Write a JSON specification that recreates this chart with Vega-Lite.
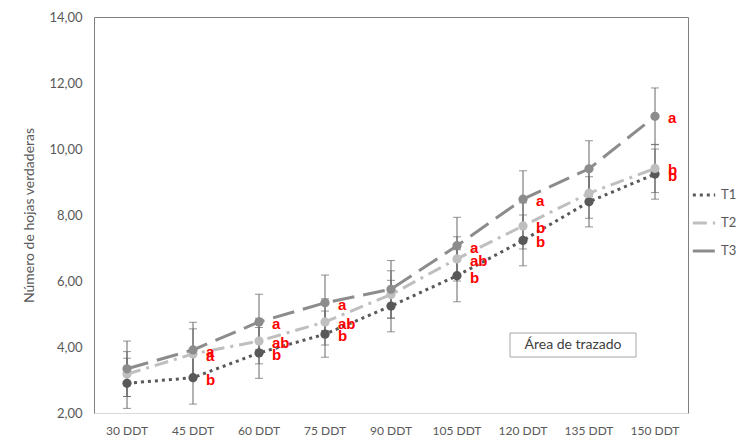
{
  "$schema": "https://vega.github.io/schema/vega-lite/v6.json",
  "width": 594,
  "height": 396,
  "autosize": "none",
  "padding": {"left": 94, "top": 17, "right": 60, "bottom": 31},
  "background": "white",
  "config": {
    "view": {"stroke": "#7f7f7f", "strokeWidth": 1},
    "font": "Lato",
    "axis": {"labelFont": "Lato", "titleFont": "Lato", "labelColor": "#595959", "titleColor": "#595959"}
  },
  "data": {
    "values": [
      {"ddt": "30 DDT", "serie": "T1", "valor": 2.90, "min": 2.14, "max": 3.66, "letra": ""},
      {"ddt": "45 DDT", "serie": "T1", "valor": 3.07, "min": 2.27, "max": 3.87, "letra": "b"},
      {"ddt": "60 DDT", "serie": "T1", "valor": 3.82, "min": 3.05, "max": 4.59, "letra": "b"},
      {"ddt": "75 DDT", "serie": "T1", "valor": 4.39, "min": 3.69, "max": 5.09, "letra": "b"},
      {"ddt": "90 DDT", "serie": "T1", "valor": 5.24, "min": 4.46, "max": 6.02, "letra": ""},
      {"ddt": "105 DDT", "serie": "T1", "valor": 6.16, "min": 5.37, "max": 6.95, "letra": "b"},
      {"ddt": "120 DDT", "serie": "T1", "valor": 7.23, "min": 6.46, "max": 8.00, "letra": "b"},
      {"ddt": "135 DDT", "serie": "T1", "valor": 8.40, "min": 7.64, "max": 9.16, "letra": ""},
      {"ddt": "150 DDT", "serie": "T1", "valor": 9.24, "min": 8.48, "max": 10.00, "letra": "b"},
      {"ddt": "30 DDT", "serie": "T2", "valor": 3.18, "min": 2.50, "max": 3.86, "letra": ""},
      {"ddt": "45 DDT", "serie": "T2", "valor": 3.79, "min": 3.03, "max": 4.55, "letra": "a"},
      {"ddt": "60 DDT", "serie": "T2", "valor": 4.18, "min": 3.49, "max": 4.87, "letra": "ab"},
      {"ddt": "75 DDT", "serie": "T2", "valor": 4.76, "min": 4.06, "max": 5.46, "letra": "ab"},
      {"ddt": "90 DDT", "serie": "T2", "valor": 5.59, "min": 4.87, "max": 6.31, "letra": ""},
      {"ddt": "105 DDT", "serie": "T2", "valor": 6.67, "min": 6.00, "max": 7.34, "letra": "ab"},
      {"ddt": "120 DDT", "serie": "T2", "valor": 7.67, "min": 6.97, "max": 8.37, "letra": "b"},
      {"ddt": "135 DDT", "serie": "T2", "valor": 8.66, "min": 7.90, "max": 9.42, "letra": ""},
      {"ddt": "150 DDT", "serie": "T2", "valor": 9.41, "min": 8.68, "max": 10.14, "letra": "b"},
      {"ddt": "30 DDT", "serie": "T3", "valor": 3.34, "min": 2.50, "max": 4.18, "letra": ""},
      {"ddt": "45 DDT", "serie": "T3", "valor": 3.91, "min": 3.07, "max": 4.75, "letra": "a"},
      {"ddt": "60 DDT", "serie": "T3", "valor": 4.76, "min": 3.92, "max": 5.60, "letra": "a"},
      {"ddt": "75 DDT", "serie": "T3", "valor": 5.34, "min": 4.50, "max": 6.18, "letra": "a"},
      {"ddt": "90 DDT", "serie": "T3", "valor": 5.75, "min": 4.88, "max": 6.62, "letra": ""},
      {"ddt": "105 DDT", "serie": "T3", "valor": 7.07, "min": 6.21, "max": 7.93, "letra": "a"},
      {"ddt": "120 DDT", "serie": "T3", "valor": 8.48, "min": 7.62, "max": 9.34, "letra": "a"},
      {"ddt": "135 DDT", "serie": "T3", "valor": 9.40, "min": 8.55, "max": 10.25, "letra": ""},
      {"ddt": "150 DDT", "serie": "T3", "valor": 10.99, "min": 10.13, "max": 11.85, "letra": "a"}
    ]
  },
  "encoding": {
    "x": {
      "field": "ddt", "type": "nominal", "sort": null,
      "scale": {"paddingInner": 1, "paddingOuter": 0.5},
      "axis": {"title": null, "labelAngle": 0, "labelFontSize": 12, "labelPadding": 12, "ticks": false, "domainColor": "#d9d9d9"}
    }
  },
  "layer": [
    {
      "mark": {"type": "rule", "color": "#666666", "strokeWidth": 1},
      "encoding": {
        "y": {"field": "min", "type": "quantitative"},
        "y2": {"field": "max"}
      }
    },
    {
      "mark": {"type": "tick", "color": "#666666", "size": 8, "thickness": 1, "orient": "horizontal"},
      "encoding": {"y": {"field": "min", "type": "quantitative"}}
    },
    {
      "mark": {"type": "tick", "color": "#666666", "size": 8, "thickness": 1, "orient": "horizontal"},
      "encoding": {"y": {"field": "max", "type": "quantitative"}}
    },
    {
      "mark": {"type": "line", "strokeWidth": 3, "strokeCap": "butt"},
      "encoding": {
        "y": {
          "field": "valor", "type": "quantitative",
          "scale": {"domain": [2, 14], "nice": false, "zero": false},
          "axis": {"title": "Número de hojas verdaderas", "titleFontSize": 14, "titleFontWeight": "normal", "titlePadding": 12, "labelFontSize": 13, "labelPadding": 12, "ticks": false, "domain": false, "grid": false, "values": [2, 4, 6, 8, 10, 12, 14], "labelExpr": "replace(format(datum.value, '.2f'), '.', ',')"}
        },
        "color": {
          "field": "serie", "type": "nominal",
          "scale": {"domain": ["T1", "T2", "T3"], "range": ["#595959", "#bfbfbf", "#8c8c8c"]},
          "legend": {"title": null, "orient": "none", "legendX": 597, "legendY": 165, "symbolType": "stroke", "symbolStrokeWidth": 3, "symbolSize": 500, "labelFontSize": 13, "labelColor": "#595959", "rowPadding": 8}
        },
        "strokeDash": {
          "field": "serie", "type": "nominal",
          "scale": {"domain": ["T1", "T2", "T3"], "range": [[3, 4], [14, 6, 3, 6], [22, 9]]},
          "legend": {"title": null, "orient": "none", "legendX": 597, "legendY": 165, "symbolType": "stroke", "symbolStrokeWidth": 3, "symbolSize": 500, "labelFontSize": 13, "labelColor": "#595959", "rowPadding": 8}
        }
      }
    },
    {
      "mark": {"type": "point", "filled": true, "size": 85, "opacity": 1, "shape": "circle"},
      "encoding": {
        "y": {"field": "valor", "type": "quantitative"},
        "color": {"field": "serie", "type": "nominal"}
      }
    },
    {
      "mark": {"type": "text", "color": "#ff0000", "fontWeight": "bold", "fontSize": 15, "align": "left", "baseline": "middle", "dx": 13, "dy": 2, "font": "Liberation Sans"},
      "encoding": {
        "y": {"field": "valor", "type": "quantitative"},
        "text": {"field": "letra"}
      }
    },
    {
      "data": {"values": [{"ddt": "120 DDT", "valor": 4.06, "nota": "Área de trazado"}]},
      "layer": [
        {
          "mark": {"type": "rect", "fill": "white", "stroke": "#a6a6a6", "strokeWidth": 1, "width": 126, "height": 24, "xOffset": 50},
          "encoding": {"y": {"field": "valor", "type": "quantitative"}}
        },
        {
          "mark": {"type": "text", "fontSize": 14, "color": "#404040", "dx": 50, "font": "Lato"},
          "encoding": {"y": {"field": "valor", "type": "quantitative"}, "text": {"field": "nota"}}
        }
      ]
    }
  ]
}
